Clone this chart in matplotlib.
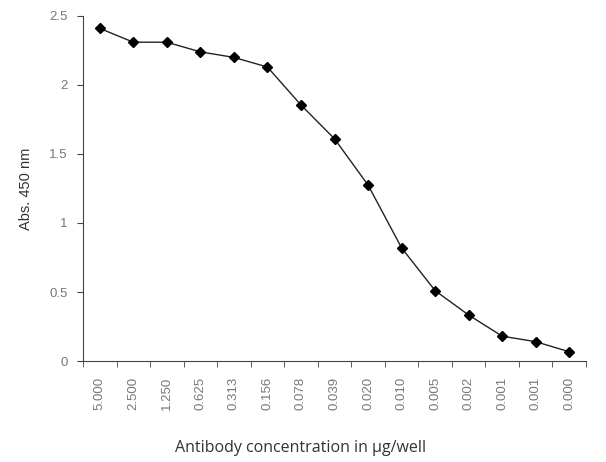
import matplotlib.pyplot as plt
import numpy as np

conc_labels = ["5.000", "2.500", "1.250", "0.625", "0.313", "0.156", "0.078",
               "0.039", "0.020", "0.010", "0.005", "0.002", "0.001", "0.001", "0.000"]
absorbance = [2.41, 2.31, 2.31, 2.24, 2.20, 2.13, 1.855, 1.61, 1.275,
              0.82, 0.51, 0.333, 0.18, 0.14, 0.067]

fig = plt.figure(figsize=(6.06, 4.62), dpi=100)
ax = fig.add_axes([0.137, 0.2186, 0.830, 0.7468])

x = np.arange(len(conc_labels))
ax.plot(x, absorbance, "-", color="#222222", linewidth=1.0,
        marker="D", markersize=5, markerfacecolor="black", markeredgecolor="black")

ax.set_xlim(-0.5, len(conc_labels) - 0.5)
ax.set_ylim(0, 2.5)
ax.set_yticks([0, 0.5, 1, 1.5, 2, 2.5])
ax.set_yticklabels(["0", "0.5", "1", "1.5", "2", "2.5"])

# labels at category centres, tick marks between categories
ax.set_xticks(x)
ax.set_xticklabels(conc_labels, rotation=90, fontsize=9.5, color="#777777",
                   family="Liberation Sans")
ax.set_xticks(np.arange(-0.5, len(conc_labels)), minor=True)
ax.tick_params(axis="x", which="major", length=0, pad=11.5)
ax.tick_params(axis="x", which="minor", length=4, direction="out", color="#444444")
ax.tick_params(axis="y", length=4, direction="out", color="#444444",
               labelsize=9.5, labelcolor="#777777", pad=7)
for lab in ax.get_yticklabels():
    lab.set_family("Liberation Sans")

for s in ["top", "right"]:
    ax.spines[s].set_visible(False)
for s in ["left", "bottom"]:
    ax.spines[s].set_color("#444444")
    ax.spines[s].set_linewidth(0.8)

ax.set_ylabel("Abs. 450 nm", fontsize=10.5, color="#333333", family="Liberation Sans",
              labelpad=12)
ax.set_xlabel("Antibody concentration in \u03bcg/well", fontsize=11.5, color="#333333",
              family="Open Sans")
ax.xaxis.set_label_coords(0.433, -0.228)

fig.savefig("out.png", dpi=100)
